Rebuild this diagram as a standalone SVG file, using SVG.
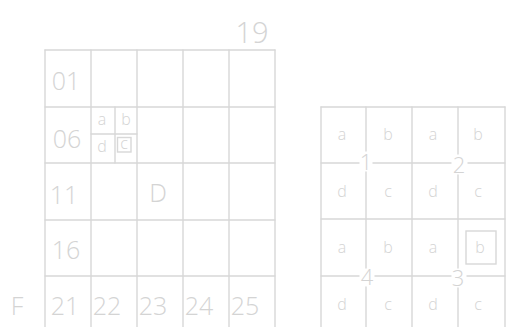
<svg xmlns="http://www.w3.org/2000/svg" width="526" height="327" viewBox="0 0 526 327">
<style>
.ln{stroke:#d8d8d8;stroke-width:1.4;fill:none;stroke-linecap:round}
.t{font-family:"Open Sans","Liberation Sans",sans-serif;font-weight:300;fill:#d4d4d4;text-anchor:middle}
.big{font-size:25px}
.sm{font-size:16px}
.gap{fill:#ffffff}
</style>
<rect width="526" height="327" fill="#ffffff"/>
<g id="connectors">
<!-- left grid -->
<path class="ln" d="M45 50 L275 50 M45 107 L275 107 M45 163 L275 163 M45 220 L275 220 M45 276 L275 276"/>
<path class="ln" d="M45 50 L45 327 M91 50 L91 327 M137 50 L137 327 M183 50 L183 327 M229 50 L229 327 M275 50 L275 327"/>
<path class="ln" d="M115 107 L115 163 M91 134 L137 134"/>
<rect class="ln" x="117.5" y="137.5" width="13.5" height="14.5"/>
<!-- right grid -->
<path class="ln" d="M321 107 L505 107 M321 219 L505 219"/>
<path class="ln" d="M321 163 L359 163 M373 163 L451 163 M468 163 L505 163"/>
<path class="ln" d="M321 276 L359 276 M375 276 L451 276 M467 276 L505 276"/>
<path class="ln" d="M321 107 L321 327 M412 107 L412 327 M505 107 L505 327"/>
<path class="ln" d="M366 107 L366 151 M366 172 L366 268 M366 287 L366 327"/>
<path class="ln" d="M458 107 L458 154 M458 175 L458 268 M458 288 L458 327"/>
<rect class="ln" x="466" y="231" width="30" height="33"/>
</g>
<g id="left-labels">
<text class="t" x="252" y="43" style="font-size:29px">19</text>
<text class="t big" x="66" y="90">01</text>
<text class="t big" x="67" y="148">06</text>
<text class="t big" x="64" y="204">11</text>
<text class="t big" x="66" y="259">16</text>
<text class="t big" x="17" y="315">F</text>
<text class="t big" x="65" y="315">21</text>
<text class="t big" x="107" y="315">22</text>
<text class="t big" x="153" y="315">23</text>
<text class="t big" x="199" y="315">24</text>
<text class="t big" x="245" y="315">25</text>
<text class="t big" x="158" y="202">D</text>
<text class="t sm" x="102" y="125">a</text>
<text class="t sm" x="126" y="125">b</text>
<text class="t sm" x="102" y="152">d</text>
<text class="t sm" x="124" y="149">c</text>
</g>
<g id="right-labels">
<text class="t sm" x="342" y="140">a</text>
<text class="t sm" x="388" y="140">b</text>
<text class="t sm" x="433" y="140">a</text>
<text class="t sm" x="478" y="140">b</text>
<text class="t sm" x="342" y="197">d</text>
<text class="t sm" x="388" y="197">c</text>
<text class="t sm" x="433" y="197">d</text>
<text class="t sm" x="478" y="197">c</text>
<text class="t sm" x="342" y="253">a</text>
<text class="t sm" x="388" y="253">b</text>
<text class="t sm" x="433" y="253">a</text>
<text class="t sm" x="480" y="253">b</text>
<text class="t sm" x="342" y="310">d</text>
<text class="t sm" x="388" y="310">c</text>
<text class="t sm" x="433" y="310">d</text>
<text class="t sm" x="478" y="310">c</text>
<text class="t" x="366" y="170" style="font-size:22px">1</text>
<text class="t" x="459" y="173" style="font-size:22px">2</text>
<text class="t" x="367" y="285" style="font-size:22px">4</text>
<text class="t" x="458" y="286" style="font-size:22px">3</text>
</g>
</svg>
